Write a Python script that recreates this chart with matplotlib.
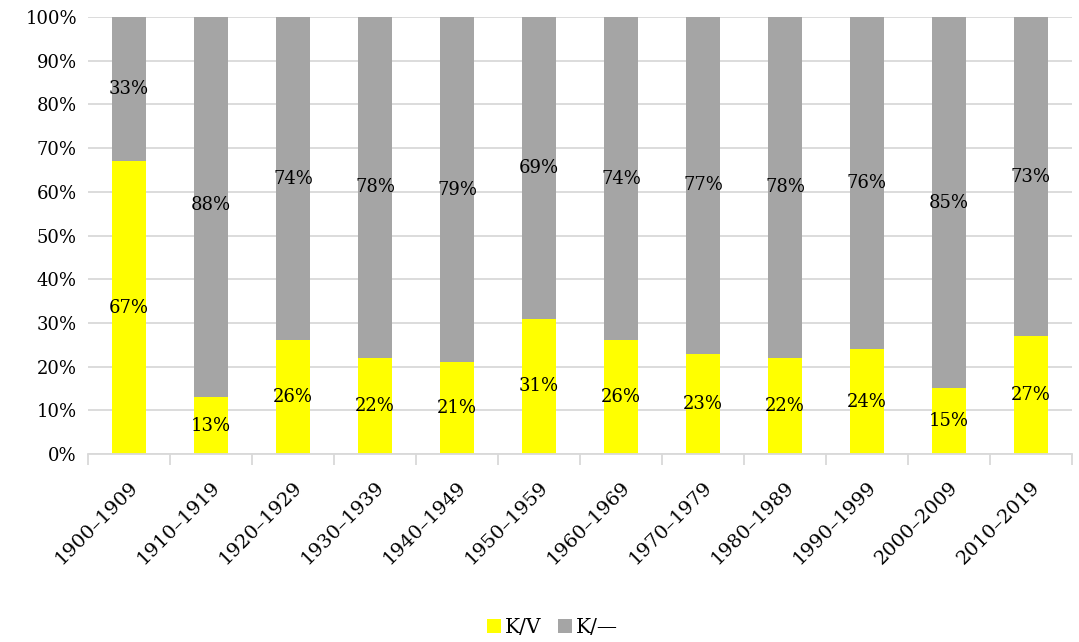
import numpy as np
import matplotlib
matplotlib.use("Agg")
import matplotlib.pyplot as plt
from matplotlib.ticker import PercentFormatter

# decade shares, in percent
decades = ["1900–1909", "1910–1919", "1920–1929", "1930–1939", "1940–1949", "1950–1959",
           "1960–1969", "1970–1979", "1980–1989", "1990–1999", "2000–2009", "2010–2019"]
kv = [67, 13, 26, 22, 21, 31, 26, 23, 22, 24, 15, 27]
kdash = [33, 88, 74, 78, 79, 69, 74, 77, 78, 76, 85, 73]

plt.rcParams['font.family'] = ['DejaVu Serif']

fig = plt.figure(figsize=(10.79, 6.42), dpi=100)
ax = fig.add_axes([0.0816, 0.2928, 0.9119, 0.6807])

x = np.arange(len(decades))
w = 0.42
kv = np.array(kv)
kdash = np.array(kdash)
b1 = ax.bar(x, kv, w, color="#ffff00", label="K/V", zorder=3)
b2 = ax.bar(x, kdash, w, bottom=kv, color="#a5a5a5", label="K/—", zorder=3)

# value labels in the middle of each segment
for i in range(len(x)):
    ax.text(x[i], kv[i] / 2, f"{kv[i]}%", ha="center", va="center", fontsize=13, zorder=4)
    ax.text(x[i], kv[i] + kdash[i] / 2, f"{kdash[i]}%", ha="center", va="center", fontsize=13, zorder=4)

ax.set_ylim(0, 100)
ax.set_xlim(-0.5, len(x) - 0.5)
ax.set_yticks(np.arange(0, 101, 10))
ax.yaxis.set_major_formatter(PercentFormatter(decimals=0))
ax.grid(axis="y", color="#d9d9d9", linewidth=1.3, zorder=0)

ax.set_xticks(x)
ax.set_xticklabels(decades, rotation=45, ha="right", rotation_mode="anchor", fontsize=14)
ax.set_xticks(np.arange(-0.5, len(x), 1), minor=True)
ax.tick_params(axis="x", which="major", length=0, pad=17)
ax.tick_params(axis="x", which="minor", length=8, color="#d9d9d9", width=1.3)
ax.tick_params(axis="y", length=0, labelsize=13, pad=8)

for s in ["top", "right", "left"]:
    ax.spines[s].set_visible(False)
ax.spines["bottom"].set_color("#d9d9d9")
ax.spines["bottom"].set_linewidth(1.3)
ax.spines["bottom"].set_zorder(5)

fig.legend(handles=[b1, b2], loc="center", bbox_to_anchor=(0.512, 0.022), ncol=2, frameon=False,
           fontsize=14.5, handlelength=0.7, handleheight=0.7, handletextpad=0.2, columnspacing=0.8)

fig.savefig("out.png", dpi=100)
